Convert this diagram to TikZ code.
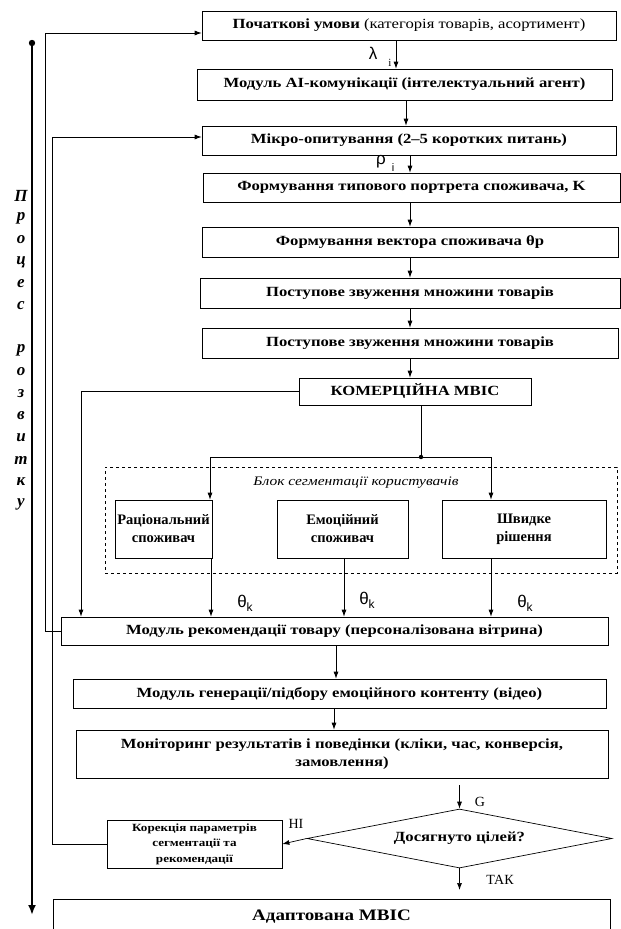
\documentclass[tikz,border=0pt]{standalone}
\usepackage{fontspec}
\setmainfont{Liberation Serif}
\newfontfamily\wserif{Liberation Serif}[FakeStretch=1.19]
\newfontfamily\gsans{Liberation Sans}
\usetikzlibrary{arrows.meta,shapes.geometric}
\begin{document}
\begin{tikzpicture}[x=1pt,y=-1pt,
  box/.style={draw, line width=0.7pt, inner sep=1pt, align=center, font=\wserif\bfseries\fontsize{14}{18}\selectfont},
  arr/.style={-{Latex[length=7pt,width=5pt]}, line width=0.7pt},
  ln/.style={line width=0.7pt},
  lbl/.style={inner sep=0pt, font=\fontsize{13}{15}\selectfont},
  vlet/.style={inner sep=0pt, font=\bfseries\itshape\fontsize{17}{17}\selectfont},
  gk/.style={inner sep=0pt, font=\gsans\fontsize{17}{17}\selectfont}]
\useasboundingbox (0,0) rectangle (621,929);
\clip (0,0) rectangle (621,929);
\fill[white] (0,0) rectangle (621,929);

% main column
\node[box, minimum width=414pt, minimum height=29pt] (b1) at (409,25.5) {Початкові умови {\mdseries (категорія товарів, асортимент)}};
\node[box, minimum width=415pt, minimum height=31pt] (b2) at (404.5,84.5) {Модуль AI-комунікації (інтелектуальний агент)};
\node[box, minimum width=414pt, minimum height=29pt] (b3) at (409,140.5) {Мікро-опитування (2–5 коротких питань)};
\node[box, minimum width=417pt, minimum height=29pt] (b4) at (411.5,187.5) {Формування типового портрета споживача, K};
\node[box, minimum width=416pt, minimum height=30pt] (b5) at (410,242) {Формування вектора споживача θр};
\node[box, minimum width=420pt, minimum height=30pt] (b6) at (410,293) {Поступове звуження множини товарів};
\node[box, minimum width=416pt, minimum height=30pt] (b7) at (410,343) {Поступове звуження множини товарів};
\node[box, minimum width=232pt, minimum height=27pt] (b8) at (415,391.5) {КОМЕРЦІЙНА МВІС};

% segmentation block
\node[draw, dashed, line width=0.6pt, minimum width=512pt, minimum height=106pt, inner sep=0pt] (seg) at (361,520) {};
\node[lbl, font=\wserif\itshape\fontsize{13}{15}\selectfont] (segt) at (356,483) {Блок сегментації користувачів};
\node[box, font=\bfseries\fontsize{14.5}{18}\selectfont, minimum width=97pt, minimum height=58pt] (s1) at (163.5,529) {Раціональний\\споживач};
\node[box, font=\bfseries\fontsize{14.5}{18}\selectfont, minimum width=131pt, minimum height=58pt] (s2) at (342.5,529) {Емоційний\\споживач};
\node[box, font=\bfseries\fontsize{14.5}{18}\selectfont, minimum width=164pt, minimum height=58pt] (s3) at (524,529) {Швидке\\рішення};

% lower column
\node[box, minimum width=547pt, minimum height=28pt] (rec) at (334.5,631) {Модуль рекомендації товару (персоналізована вітрина)};
\node[box, minimum width=533pt, minimum height=29pt] (gen) at (339.5,693.5) {Модуль генерації/підбору емоційного контенту (відео)};
\node[box, minimum width=532pt, minimum height=48pt] (mon) at (342,754) {Моніторинг результатів і поведінки (кліки, час, конверсія,\\замовлення)};
\node[draw, line width=0.7pt, diamond, aspect=5.2, minimum width=305pt, minimum height=59pt, inner sep=0pt, font=\wserif\bfseries\fontsize{14}{16}\selectfont] (dia) at (459.5,838.5) {Досягнуто цілей?};
\node[box, font=\wserif\bfseries\fontsize{11}{15.5}\selectfont, minimum width=175pt, minimum height=48pt] (kor) at (194.5,844) {Корекція параметрів\\сегментації та\\рекомендації};
\node[box, minimum width=557pt, minimum height=41pt] (fin) at (331.5,919.5) {};
\node[inner sep=0pt, font=\wserif\bfseries\fontsize{16}{19}\selectfont] (fint) at (331.5,917) {Адаптована МВІС};

% main arrows
\draw[arr] (396,0 |- b1.south) -- (396,0 |- b2.north);
\draw[arr] (406,0 |- b2.south) -- (406,0 |- b3.north);
\draw[arr] (410,0 |- b3.south) -- (410,0 |- b4.north);
\draw[arr] (410,0 |- b4.south) -- (410,0 |- b5.north);
\draw[arr] (410,0 |- b5.south) -- (410,0 |- b6.north);
\draw[arr] (410,0 |- b6.south) -- (410,0 |- b7.north);
\draw[arr] (410,0 |- b7.south) -- (410,0 |- b8.north);

% split to segments
\coordinate (sp) at (421,457);
\draw[ln] (421,0 |- b8.south) -- (sp);
\fill (sp) circle (2.2pt);
\draw[arr] (sp) -- (210,457) -- (210,0 |- s1.north);
\draw[arr] (sp) -- (491,457) -- (491,0 |- s3.north);

% segments to recommendation
\draw[arr] (211,0 |- s1.south) -- (211,0 |- rec.north);
\draw[arr] (344,0 |- s2.south) -- (344,0 |- rec.north);
\draw[arr] (491,0 |- s3.south) -- (491,0 |- rec.north);
\node[gk] (t1) at (245,603) {θ\raisebox{-4pt}{\fontsize{12}{12}\selectfont k}};
\node[gk] (t2) at (367,600) {θ\raisebox{-4pt}{\fontsize{12}{12}\selectfont k}};
\node[gk] (t3) at (525,603) {θ\raisebox{-4pt}{\fontsize{12}{12}\selectfont k}};

% commercial MVIS to recommendation
\draw[arr] (b8.west) -- (81,0 |- b8.west) -- (81,0 |- rec.north);

% lower arrows
\draw[arr] (336,0 |- rec.south) -- (336,0 |- gen.north);
\draw[arr] (334,0 |- gen.south) -- (334,0 |- mon.north);
\draw[arr] (459.5,785) -- (dia.north);
\draw[arr] (dia.west) -- (kor.east);
\draw[arr] (dia.south) -- (459.5,890);

\node[lbl, font=\fontsize{14}{15}\selectfont] (g) at (480,802) {G};
\node[lbl, font=\fontsize{14}{15}\selectfont] (ni) at (296,824) {НІ};
\node[lbl, font=\fontsize{14}{15}\selectfont] (tak) at (500,880) {ТАК};

% labels lambda, rho
\node[gk] (lam) at (373,53) {λ};
\node[lbl, font=\fontsize{11}{11}\selectfont] (li) at (390,63) {i};
\node[gk] (rho) at (381,162) {ρ};
\node[lbl, font=\gsans\fontsize{11}{11}\selectfont] (ri) at (393,168) {i};

% feedback lines
\draw[arr] (rec.west) -- (45,0 |- rec.west) -- (45,33) -- (b1.west |- 0,33);
\draw[arr] (kor.west) -- (52,0 |- kor.west) -- (52,137) -- (b3.west |- 0,137);

% process arrow
\coordinate (ps) at (32,43);
\coordinate (pe) at (32,915);
\draw[line width=2.6pt, -{Latex[length=10pt,width=8pt]}] (ps) -- (pe);
\fill (ps) circle (3.2pt);

% vertical text
\foreach \ch [count=\i] in {П,р,о,ц,е,с,{},р,о,з,в,и,т,к,у} {
  \node[vlet] (v\i) at (21,196+22*\i-22) {\ch};
}
\end{tikzpicture}
\end{document}
